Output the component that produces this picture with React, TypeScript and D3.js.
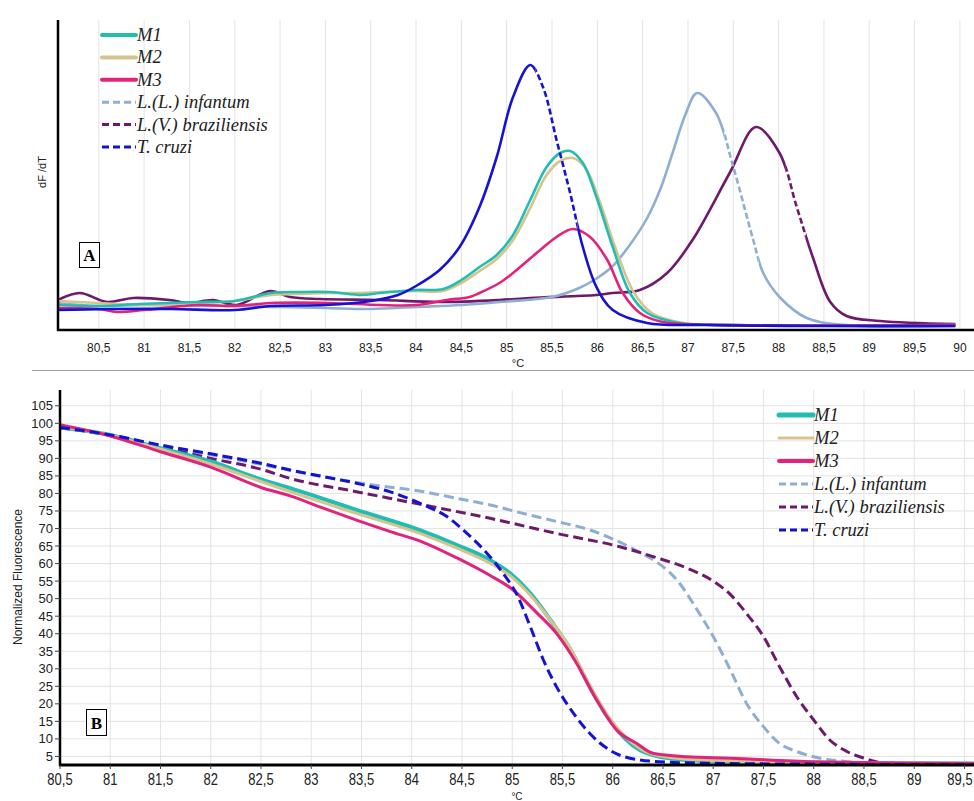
import React from 'react';
import * as d3 from 'd3';

type Pt = [number, number];

// series labels / colours, same order in both panels
const SERIES_NAMES = ['M1', 'M2', 'M3', 'L.(L.) infantum', 'L.(V.) braziliensis', 'T. cruzi'];
const SERIES_COLORS = ['#22bdb2', '#d5c48d', '#e2237b', '#8eafd2', '#6e1a6c', '#1612d2'];

// ticks
const A_X_TICKS = [80.5, 81, 81.5, 82, 82.5, 83, 83.5, 84, 84.5, 85, 85.5, 86, 86.5, 87, 87.5, 88, 88.5, 89, 89.5, 90];
const B_X_TICKS = [80.5, 81, 81.5, 82, 82.5, 83, 83.5, 84, 84.5, 85, 85.5, 86, 86.5, 87, 87.5, 88, 88.5, 89, 89.5];
const B_Y_TICKS = [5, 10, 15, 20, 25, 30, 35, 40, 45, 50, 55, 60, 65, 70, 75, 80, 85, 90, 95, 100, 105];

// panel A: derivative melt curves (°C, dF/dT arbitrary units)
const A_M1: Pt[] = [
  [80.05, 0.25], [80.5, 0.24], [80.95, 0.26], [81.6, 0.28], [82.0, 0.29], [82.4, 0.37], [82.7, 0.38],
  [83.05, 0.38], [83.4, 0.35], [83.6, 0.37], [84.0, 0.4], [84.3, 0.41], [84.5, 0.5], [84.7, 0.63],
  [84.89, 0.75], [85.07, 0.95], [85.26, 1.3], [85.44, 1.63], [85.59, 1.77], [85.7, 1.79], [85.84, 1.67],
  [85.99, 1.33], [86.17, 0.83], [86.36, 0.37], [86.55, 0.17], [86.91, 0.07], [87.5, 0.05], [89.95, 0.05],
];
const A_M2: Pt[] = [
  [80.05, 0.29], [80.5, 0.27], [80.95, 0.25], [81.6, 0.27], [82.0, 0.29], [82.4, 0.35], [82.7, 0.36],
  [83.05, 0.37], [83.4, 0.37], [83.6, 0.38], [84.0, 0.39], [84.3, 0.39], [84.5, 0.47], [84.7, 0.59],
  [84.89, 0.71], [85.07, 0.9], [85.26, 1.22], [85.44, 1.55], [85.59, 1.69], [85.73, 1.72], [85.87, 1.62],
  [86.02, 1.3], [86.2, 0.82], [86.4, 0.38], [86.6, 0.17], [86.95, 0.07], [87.5, 0.05], [89.95, 0.05],
];
const A_M3: Pt[] = [
  [80.05, 0.22], [80.5, 0.21], [80.7, 0.18], [81.0, 0.2], [81.6, 0.25], [82.0, 0.24], [82.4, 0.27],
  [83.05, 0.27], [83.6, 0.25], [84.0, 0.25], [84.34, 0.3], [84.59, 0.33], [84.7, 0.37], [84.92, 0.47],
  [85.07, 0.57], [85.37, 0.8], [85.55, 0.93], [85.73, 1.01], [85.92, 0.93], [86.11, 0.7], [86.28, 0.37],
  [86.47, 0.17], [86.72, 0.08], [87.5, 0.05], [89.95, 0.05],
];
const A_INFANTUM: Pt[] = [
  [80.05, 0.27], [80.5, 0.24], [81.0, 0.25], [81.6, 0.24], [82.0, 0.24], [82.5, 0.23], [83.0, 0.22],
  [83.5, 0.21], [84.0, 0.23], [84.5, 0.25], [84.92, 0.28], [85.5, 0.33], [85.8, 0.42], [86.0, 0.52],
  [86.17, 0.64], [86.35, 0.84], [86.55, 1.12], [86.7, 1.42], [86.83, 1.77], [86.97, 2.15], [87.1, 2.37],
  [87.31, 2.17], [87.5, 1.63], [87.72, 0.9], [87.83, 0.57], [88.01, 0.33], [88.31, 0.12], [88.75, 0.05],
  [89.95, 0.04],
];
const A_BRAZILIENSIS: Pt[] = [
  [80.05, 0.3], [80.29, 0.37], [80.59, 0.28], [80.88, 0.32], [81.28, 0.3], [81.5, 0.27], [81.76, 0.3],
  [82.02, 0.25], [82.39, 0.39], [82.61, 0.33], [82.94, 0.31], [83.6, 0.3], [84.26, 0.28], [84.92, 0.3],
  [85.26, 0.32], [85.99, 0.35], [86.17, 0.37], [86.47, 0.4], [86.77, 0.57], [87.05, 0.9], [87.46, 1.57],
  [87.75, 2.03], [88.01, 1.77], [88.2, 1.23], [88.38, 0.72], [88.57, 0.28], [88.75, 0.14], [89.12, 0.09],
  [89.95, 0.06],
];
const A_CRUZI: Pt[] = [
  [80.05, 0.2], [80.6, 0.21], [81.3, 0.21], [82.0, 0.2], [82.4, 0.24], [83.0, 0.25], [83.5, 0.29],
  [83.8, 0.35], [84.0, 0.44], [84.26, 0.6], [84.48, 0.83], [84.7, 1.23], [84.89, 1.73], [85.07, 2.33],
  [85.26, 2.65], [85.4, 2.43], [85.55, 1.9], [85.7, 1.37], [85.84, 0.83], [85.99, 0.43], [86.17, 0.2],
  [86.55, 0.07], [87.2, 0.05], [88.5, 0.04], [89.95, 0.04],
];
// parts of the peaks drawn dashed in the figure
const A_DASHED: ([number, number] | null)[] = [null, null, null, [87.4, 87.78], [88.08, 88.3], [85.32, 85.78]];

// panel B: normalized melt curves (°C, %)
const B_M1: Pt[] = [
  [80.5, 98.8], [81.0, 96.7], [81.5, 92.9], [82.0, 89.1], [82.5, 84.0], [82.79, 81.5], [83.45, 75.3],
  [84.12, 69.1], [84.45, 65.3], [84.78, 61.0], [84.98, 57.2], [85.18, 51.5], [85.38, 43.9], [85.58, 35.4],
  [85.77, 24.9], [85.97, 15.4], [86.27, 6.8], [86.4, 5.4], [86.74, 4.0], [87.5, 3.3], [89.6, 3.0],
];
const B_M2: Pt[] = [
  [80.5, 99.0], [81.0, 96.6], [81.5, 92.6], [82.0, 88.4], [82.5, 83.4], [82.79, 80.5], [83.45, 74.3],
  [84.12, 68.2], [84.45, 64.4], [84.78, 60.1], [84.99, 56.3], [85.18, 51.0], [85.38, 43.9], [85.58, 35.8],
  [85.77, 25.4], [85.97, 15.9], [86.27, 7.3], [86.4, 5.6], [86.74, 4.2], [87.5, 3.4], [89.6, 3.0],
];
const B_M3: Pt[] = [
  [80.5, 99.6], [81.0, 96.4], [81.5, 91.9], [82.0, 87.5], [82.5, 81.7], [82.79, 79.3], [83.12, 75.8],
  [83.45, 72.4], [83.78, 69.2], [84.12, 66.0], [84.45, 61.6], [84.78, 56.6], [84.99, 52.9], [85.25, 45.8],
  [85.44, 40.1], [85.64, 31.6], [85.84, 21.1], [86.04, 12.5], [86.24, 8.7], [86.4, 5.9], [86.74, 4.9],
  [87.17, 4.5], [88.0, 3.5], [89.6, 3.0],
];
const B_INFANTUM: Pt[] = [
  [80.5, 98.7], [81.0, 96.6], [81.5, 93.6], [82.0, 91.0], [82.5, 88.3], [83.0, 85.4], [83.62, 82.4],
  [84.12, 80.5], [84.45, 78.6], [84.78, 76.7], [85.11, 74.3], [85.44, 72.0], [85.77, 69.6], [86.0, 67.0],
  [86.27, 63.2], [86.45, 60.2], [86.64, 55.3], [86.84, 46.8], [87.0, 39.2], [87.17, 29.7], [87.33, 20.2],
  [87.5, 13.5], [87.66, 8.7], [87.83, 6.4], [88.0, 4.9], [88.33, 3.5], [88.73, 2.9], [89.6, 2.6],
];
const B_BRAZILIENSIS: Pt[] = [
  [80.5, 98.8], [81.0, 96.6], [81.5, 93.3], [82.0, 90.0], [82.5, 86.9], [82.79, 84.3], [83.45, 80.5],
  [84.12, 76.7], [84.78, 72.9], [85.44, 68.6], [86.07, 64.8], [86.4, 62.0], [86.74, 58.7], [87.0, 55.0],
  [87.17, 51.2], [87.33, 45.8], [87.5, 39.2], [87.66, 30.6], [87.83, 22.1], [88.0, 15.4], [88.16, 9.7],
  [88.33, 6.4], [88.5, 4.5], [88.73, 3.0], [89.6, 2.6],
];
const B_CRUZI: Pt[] = [
  [80.5, 98.8], [81.0, 96.7], [81.5, 93.8], [82.0, 91.3], [82.5, 88.6], [82.79, 86.7], [83.12, 84.8],
  [83.45, 82.9], [83.78, 80.5], [84.12, 76.7], [84.35, 73.4], [84.55, 68.6], [84.75, 62.9], [84.91, 57.2],
  [85.04, 51.5], [85.18, 42.0], [85.31, 32.5], [85.44, 24.9], [85.61, 17.3], [85.77, 11.6], [85.97, 6.8],
  [86.27, 4.0], [86.6, 3.3], [87.1, 3.0], [88.0, 2.8], [89.6, 2.6],
];

const A_SERIES = [A_M1, A_M2, A_M3, A_INFANTUM, A_BRAZILIENSIS, A_CRUZI];
const B_SERIES = [B_M1, B_M2, B_M3, B_INFANTUM, B_BRAZILIENSIS, B_CRUZI];

const W = 974;
const H = 801;
const SANS = "'Liberation Sans', Arial, sans-serif";
const SERIF = "'Liberation Serif', 'Times New Roman', serif";
const GRID = '#e3e3e3';

const fmt = (v: number) => String(v).replace('.', ',');

function Legend({ x, y, step, widths }: { x: number; y: number; step: number; widths: number[] }) {
  return (
    <g>
      {SERIES_NAMES.map((name, i) => {
        const cy = y + i * step;
        const dashed = i >= 3;
        return (
          <g key={name}>
            <line
              x1={x}
              x2={x + 34}
              y1={cy}
              y2={cy}
              stroke={SERIES_COLORS[i]}
              strokeWidth={widths[i]}
              strokeLinecap={dashed ? 'butt' : 'round'}
              strokeDasharray={dashed ? '7 4' : undefined}
            />
            <text x={x + 35} y={cy + 6} fontFamily={SERIF} fontStyle="italic" fontSize={18.5} fill="#222">
              {name}
            </text>
          </g>
        );
      })}
    </g>
  );
}

export default function App() {
  // ---- panel A
  const xA = d3.scaleLinear().domain([80.05, 90.15]).range([58, 973.5]);
  const yA = d3.scaleLinear().domain([0, 3.1]).range([330, 20]);
  const lineA = d3
    .line<Pt>()
    .x((d) => xA(d[0]))
    .y((d) => yA(d[1]))
    .curve(d3.curveCatmullRom.alpha(0.5));
  const drawOrderA = [4, 3, 1, 0, 2, 5];

  // ---- panel B
  const xB = d3.scaleLinear().domain([80.5, 89.595]).range([60, 974]);
  const yB = d3.scaleLinear().domain([2.5, 109.5]).range([765.2, 390]);
  const lineB = d3
    .line<Pt>()
    .x((d) => xB(d[0]))
    .y((d) => yB(d[1]))
    .curve(d3.curveMonotoneX);
  const drawOrderB = [3, 4, 0, 1, 2, 5];
  const widthsB = [4, 3, 3, 3, 3, 3];

  return (
    <svg width={W} height={H} style={{ position: 'absolute', left: 0, top: 0, background: '#fff' }}>
      <defs>
        <clipPath id="plotA">
          <rect x={58} y={15} width={W - 58} height={316} />
        </clipPath>
        <clipPath id="plotB">
          <rect x={60} y={388} width={W - 60} height={378} />
        </clipPath>
        {A_DASHED.map((r, i) =>
          r ? (
            <React.Fragment key={i}>
              <clipPath id={`solidA${i}`}>
                <rect x={0} y={0} width={xA(r[0])} height={340} />
                <rect x={xA(r[1])} y={0} width={W - xA(r[1])} height={340} />
              </clipPath>
              <clipPath id={`dashA${i}`}>
                <rect x={xA(r[0])} y={0} width={xA(r[1]) - xA(r[0])} height={340} />
              </clipPath>
            </React.Fragment>
          ) : null,
        )}
      </defs>

      {/* ================= panel A ================= */}
      {A_X_TICKS.map((t) => (
        <line key={t} x1={xA(t)} x2={xA(t)} y1={20} y2={330} stroke={GRID} strokeWidth={1} />
      ))}
      <g clipPath="url(#plotA)">
        {drawOrderA.map((i) => {
          const d = lineA(A_SERIES[i]) || '';
          const r = A_DASHED[i];
          if (!r) {
            return <path key={i} d={d} fill="none" stroke={SERIES_COLORS[i]} strokeWidth={2.6} />;
          }
          return (
            <g key={i}>
              <path d={d} fill="none" stroke={SERIES_COLORS[i]} strokeWidth={2.6} clipPath={`url(#solidA${i})`} />
              <path
                d={d}
                fill="none"
                stroke={SERIES_COLORS[i]}
                strokeWidth={2.6}
                strokeDasharray="6 3"
                clipPath={`url(#dashA${i})`}
              />
            </g>
          );
        })}
      </g>
      <line x1={58} x2={58} y1={20} y2={331} stroke="#000" strokeWidth={2.5} />
      <line x1={57} x2={W} y1={330} y2={330} stroke="#000" strokeWidth={2.5} />
      {A_X_TICKS.map((t) => (
        <text key={t} x={xA(t)} y={352} textAnchor="middle" fontFamily={SANS} fontSize={12} fill="#222">
          {fmt(t)}
        </text>
      ))}
      <text x={518} y={367} textAnchor="middle" fontFamily={SANS} fontSize={11} fill="#222">
        °C
      </text>
      <text
        transform="translate(46,172) rotate(-90)"
        textAnchor="middle"
        fontFamily={SANS}
        fontSize={11}
        fill="#222"
      >
        dF /dT
      </text>
      <rect x={79.5} y={242.5} width={20} height={25} fill="#fff" stroke="#000" strokeWidth={1} />
      <text x={89.5} y={261} textAnchor="middle" fontFamily={SERIF} fontWeight="bold" fontSize={17} fill="#000">
        A
      </text>
      <Legend x={102} y={35} step={22.4} widths={[4, 4, 4, 3, 3, 3]} />

      {/* separator */}
      <line x1={32} x2={W} y1={370.5} y2={370.5} stroke="#a0a0a0" strokeWidth={1} />

      {/* ================= panel B ================= */}
      {B_Y_TICKS.map((v) => (
        <line key={v} x1={60} x2={W} y1={yB(v)} y2={yB(v)} stroke={GRID} strokeWidth={1} />
      ))}
      {B_X_TICKS.map((t) => (
        <line key={t} x1={xB(t)} x2={xB(t)} y1={390} y2={765} stroke={GRID} strokeWidth={1} />
      ))}
      <g clipPath="url(#plotB)">
        {drawOrderB.map((i) => (
          <path
            key={i}
            d={lineB(B_SERIES[i]) || ''}
            fill="none"
            stroke={SERIES_COLORS[i]}
            strokeWidth={widthsB[i]}
            strokeDasharray={i >= 3 ? '10 5' : undefined}
          />
        ))}
      </g>
      <line x1={60} x2={60} y1={390} y2={766} stroke="#000" strokeWidth={2.5} />
      <line x1={59} x2={W} y1={765} y2={765} stroke="#000" strokeWidth={3} />
      {B_Y_TICKS.map((v) => (
        <g key={v}>
          <line x1={55} x2={60} y1={yB(v)} y2={yB(v)} stroke="#444" strokeWidth={1} />
          <text x={53} y={yB(v) + 4.5} textAnchor="end" fontFamily={SANS} fontSize={13} fill="#222">
            {v}
          </text>
        </g>
      ))}
      {B_X_TICKS.map((t) => (
        <g key={t}>
          <line x1={xB(t)} x2={xB(t)} y1={765} y2={769} stroke="#444" strokeWidth={1} />
          <text
            transform={`translate(${Math.min(xB(t), W - 14)},785) scale(1,1.2)`}
            textAnchor="middle"
            fontFamily={SANS}
            fontSize={13}
            fill="#222"
          >
            {fmt(t)}
          </text>
        </g>
      ))}
      <text x={517} y={800} textAnchor="middle" fontFamily={SANS} fontSize={10} fill="#222">
        °C
      </text>
      <text
        transform="translate(22,577) rotate(-90)"
        textAnchor="middle"
        fontFamily={SANS}
        fontSize={12}
        fill="#222"
      >
        Normalized Fluorescence
      </text>
      <rect x={86.5} y={709.5} width={20} height={26} fill="#fff" stroke="#000" strokeWidth={1} />
      <text x={96.5} y={728.5} textAnchor="middle" fontFamily={SERIF} fontWeight="bold" fontSize={17} fill="#000">
        B
      </text>
      <Legend x={779} y={415} step={23} widths={[5, 3, 4, 3, 3, 3]} />
    </svg>
  );
}
